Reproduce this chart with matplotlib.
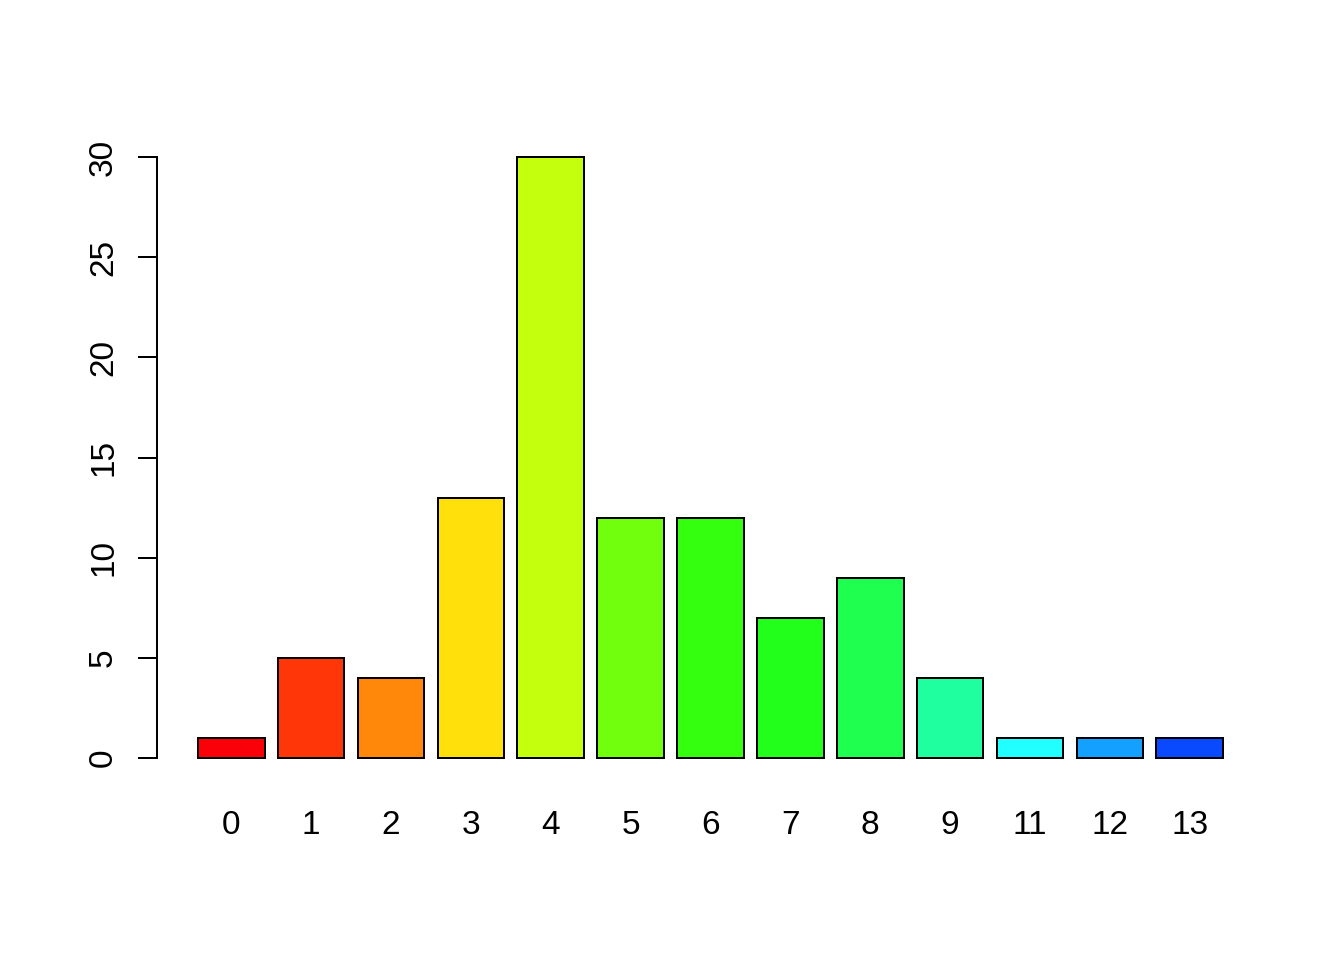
import matplotlib
matplotlib.use("Agg")
import numpy as np
from matplotlib import pyplot as plt

# counts per category (R-style barplot)
categories = ["0", "1", "2", "3", "4", "5", "6", "7", "8", "9", "11", "12", "13"]
counts = [1, 5, 4, 13, 30, 12, 12, 7, 9, 4, 1, 1, 1]
bar_colors = ["#FA0008", "#FF3608", "#FF880B", "#FFE00B", "#C4FF0E", "#72FF0E",
              "#33FF0E", "#22FF1A", "#1FFF50", "#1FFF9F", "#22FFFF", "#14A0FF",
              "#0A4AFF"]

plt.rcParams['font.family'] = ['Liberation Sans', 'DejaVu Sans']

fig = plt.figure(figsize=(7, 5), dpi=192)
ax = fig.add_axes([157 / 1344, 1 - 782 / 960, (1264 - 157) / 1344, (782 - 133) / 960])

# bar centres like barplot(width=1, space=0.2)
x = 0.7 + 1.2 * np.arange(len(counts))
ax.bar(x, counts, width=1.0, color=bar_colors, edgecolor="black", linewidth=0.75)

ax.set_xlim(-0.416, 16.216)
ax.set_ylim(-1.2, 31.2)

for s in ["top", "right", "bottom"]:
    ax.spines[s].set_visible(False)
ax.spines["left"].set_bounds(0, 30)
ax.spines["left"].set_linewidth(0.75)

ax.set_yticks([0, 5, 10, 15, 20, 25, 30])
ax.tick_params(axis="y", length=7.2, width=0.75, labelsize=12.5, pad=7)
for lab in ax.get_yticklabels():
    lab.set_rotation(90)
    lab.set_va("center")

ax.set_xticks(x)
ax.set_xticklabels(categories)
ax.tick_params(axis="x", length=0, labelsize=12.5, pad=10.5)

fig.savefig("out.png", dpi=192)
